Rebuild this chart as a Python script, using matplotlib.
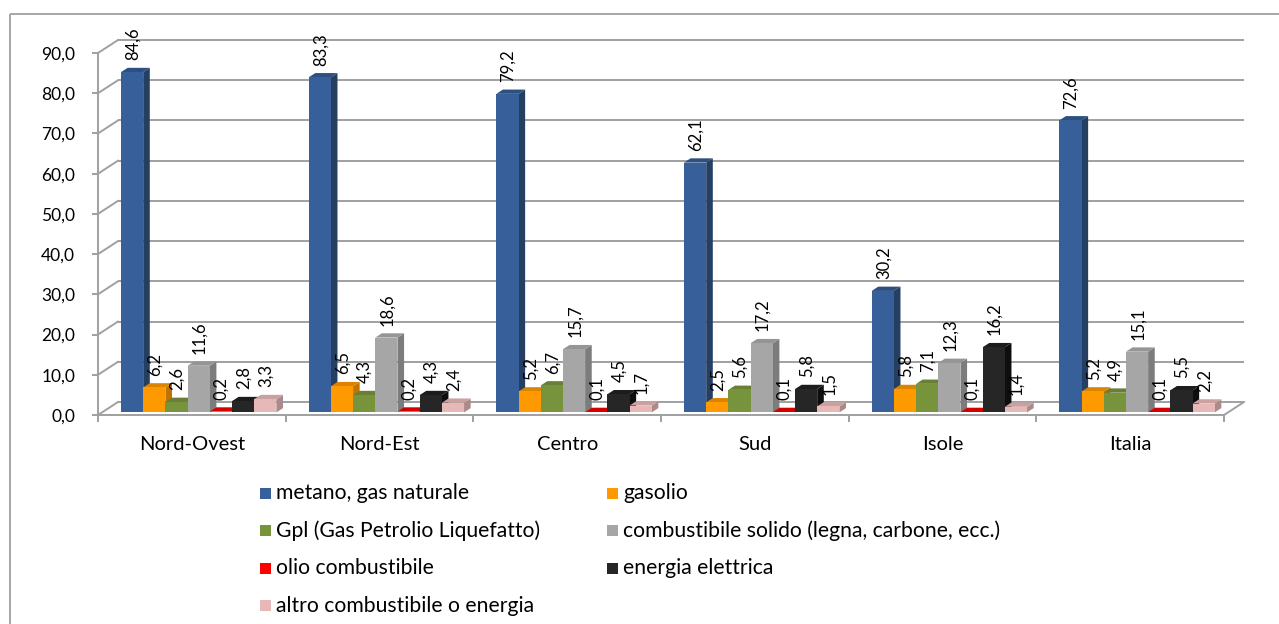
import matplotlib
matplotlib.use("Agg")
import matplotlib.pyplot as plt
from matplotlib.patches import Rectangle, Polygon
from matplotlib.transforms import Affine2D
from matplotlib.ticker import FuncFormatter, FixedLocator

plt.rcParams['font.family'] = ['Lato', 'DejaVu Sans']

# ---- data -------------------------------------------------------------
regions = ["Nord-Ovest", "Nord-Est", "Centro", "Sud", "Isole", "Italia"]
series_names = [
    "metano, gas naturale",
    "gasolio",
    "Gpl (Gas Petrolio Liquefatto)",
    "combustibile solido (legna, carbone, ecc.)",
    "olio combustibile",
    "energia elettrica",
    "altro combustibile o energia",
]
metano = [84.6, 83.3, 79.2, 62.1, 30.2, 72.6]
gasolio = [6.2, 6.5, 5.2, 2.5, 5.8, 5.2]
gpl = [2.6, 4.3, 6.7, 5.6, 7.1, 4.9]
solido = [11.6, 18.6, 15.7, 17.2, 12.3, 15.1]
olio = [0.2, 0.2, 0.1, 0.1, 0.1, 0.1]
elettrica = [2.8, 4.3, 4.5, 5.8, 16.2, 5.5]
altro = [3.3, 2.4, 1.7, 1.5, 1.4, 2.2]
y_ticks = [0, 10, 20, 30, 40, 50, 60, 70, 80, 90]

series = [metano, gasolio, gpl, solido, olio, elettrica, altro]

# front / side / top shading of each series
face_colors = ["#37609A", "#FF9900", "#77933C", "#A6A6A6", "#FF0000", "#262626", "#E6B9B8"]
side_colors = ["#243F62", "#BF7300", "#566B2B", "#7C7C7C", "#BA0000", "#0E0E0E", "#AC8A89"]
top_colors = ["#2D5080", "#DB8400", "#687F35", "#959595", "#D40000", "#1C1C1C", "#C9A1A0"]

W, H = 1279, 624
fig = plt.figure(figsize=(W / 100, H / 100), dpi=100)
fig.patch.set_facecolor("white")

# pixel helper: (x from left, y from top) -> figure
pix = Affine2D().scale(1 / W, -1 / H).translate(0, 1) + fig.transFigure

# chart area border
fig.add_artist(Rectangle((10, 14), 1400, 800, transform=pix, fill=False,
                         edgecolor="#A6A6A6", lw=1.4))

# front plane of the 3-D box
X0, X1, Y0, Y90 = 98, 1224, 415, 53
ax = fig.add_axes([X0 / W, (H - Y0) / H, (X1 - X0) / W, (Y0 - Y90) / H])
ax.set_xlim(0, len(regions))
ax.set_ylim(0, 90)
ax.set_facecolor("none")

cat_px = (X1 - X0) / len(regions)
unit_px = (Y0 - Y90) / 90.0
DX = 20 / cat_px          # depth of the box, x units
DY = 13 / unit_px         # depth of the box, value units
F = 0.2                   # depth where bar front faces sit
D = 0.33                  # bar depth (fraction of box depth)
OFF = 19 / cat_px
BW = 22.2 / cat_px

grid_c = "#A0A0A0"
grid_lw = 1.4
nc = len(regions)

# back wall gridlines and side-wall diagonals
for v in y_ticks:
    ax.plot([DX, nc + DX], [v + DY, v + DY], color=grid_c, lw=grid_lw,
            clip_on=False, zorder=1, solid_capstyle="butt")
    ax.plot([0, DX], [v, v + DY], color=grid_c, lw=grid_lw,
            clip_on=False, zorder=1)
# floor right edge
ax.plot([nc, nc + DX], [0, DY], color=grid_c, lw=grid_lw, clip_on=False, zorder=1)

# 3-D columns, drawn left to right so each one hides its neighbour's side
z = 3
for i in range(nc):
    for j, vals in enumerate(series):
        v = vals[i]
        xl = i + OFF + j * BW + F * DX
        yb = F * DY
        xr = xl + BW
        ddx, ddy = D * DX, D * DY
        side = Polygon([(xr, yb), (xr + ddx, yb + ddy), (xr + ddx, yb + v + ddy), (xr, yb + v)],
                       closed=True, facecolor=side_colors[j], edgecolor="none",
                       clip_on=False, zorder=z)
        top = Polygon([(xl, yb + v), (xr, yb + v), (xr + ddx, yb + v + ddy), (xl + ddx, yb + v + ddy)],
                      closed=True, facecolor=top_colors[j], edgecolor="none",
                      clip_on=False, zorder=z)
        front = Rectangle((xl, yb), BW, v, facecolor=face_colors[j], edgecolor="none",
                          clip_on=False, zorder=z + 0.5)
        ax.add_patch(side)
        ax.add_patch(top)
        ax.add_patch(front)
        z += 1

# value labels
for i in range(nc):
    for j, vals in enumerate(series):
        v = vals[i]
        xl = i + OFF + j * BW + F * DX
        ax.annotate(f"{v:.1f}".replace(".", ","), xy=(xl + BW / 2, F * DY + v),
                    xytext=(0.5, 8.5), textcoords="offset points", rotation=90,
                    ha="center", va="bottom", fontsize=12, color="black",
                    annotation_clip=False, zorder=200)

# axes: spines, ticks and labels
for s in ["top", "right"]:
    ax.spines[s].set_visible(False)
for s in ["left", "bottom"]:
    ax.spines[s].set_color(grid_c)
    ax.spines[s].set_linewidth(grid_lw)
    ax.spines[s].set_zorder(2)

ax.set_yticks(y_ticks)
ax.yaxis.set_major_formatter(FuncFormatter(lambda v, p: f"{v:.1f}".replace(".", ",")))
ax.tick_params(axis="y", direction="out", length=4.5, width=grid_lw, color=grid_c,
               pad=12, labelsize=12.5)

ax.xaxis.set_major_locator(FixedLocator(list(range(nc + 1))))
ax.xaxis.set_minor_locator(FixedLocator([k + 0.5 for k in range(nc)]))
ax.set_xticklabels([], minor=False)
ax.set_xticklabels(regions, minor=True)
ax.tick_params(axis="x", which="major", direction="out", length=5, width=grid_lw,
               color=grid_c, labelbottom=False)
ax.tick_params(axis="x", which="minor", length=0, pad=15, labelsize=14.5)

# legend (two columns, row-major)
leg_rows = [493, 530.5, 568, 605.5]
leg_cols = [260, 607]
for k, name in enumerate(series_names):
    r, c = divmod(k, 2)
    y = leg_rows[r]
    x = leg_cols[c]
    fig.add_artist(Rectangle((x, y - 5.5), 11, 11, transform=pix,
                             facecolor=face_colors[k], edgecolor="none"))
    fig.text(x + 16, y, name, transform=pix, ha="left", va="center",
             fontsize=15.2, color="black")

fig.savefig("out.png", dpi=100, facecolor="white")
